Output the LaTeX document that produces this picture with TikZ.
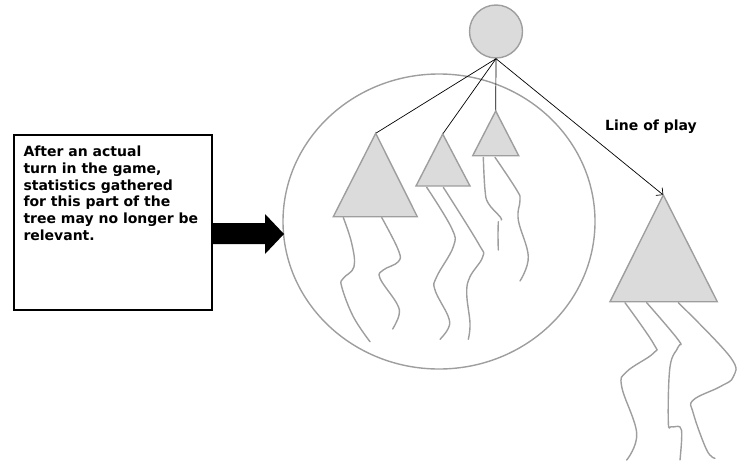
\documentclass[tikz,border=0pt]{standalone}
\usepackage{fontspec}
\setmainfont{DejaVu Sans}
\usetikzlibrary{arrows.meta}
\begin{document}
\begin{tikzpicture}[x=1pt,y=-1pt,
  grayline/.style={draw=black!38, line width=1.4pt},
  tri/.style={grayline, fill=black!14, line join=miter},
  squig/.style={draw=black!38, line width=1.4pt, line cap=round, smooth, tension=0.65},
  conn/.style={draw=black, line width=0.7pt},
  lbl/.style={font=\bfseries\fontsize{14}{16.7}\selectfont, inner sep=0pt}]
\useasboundingbox (0,0) rectangle (751,466);
% big ellipse
\draw[grayline] (439,221.5) ellipse [x radius=156, y radius=147.5];
% root
\node[circle, grayline, fill=black!14, minimum size=53pt, inner sep=0pt] (root) at (496,31.5) {};
% triangle apices
\coordinate (t1) at (375.7,133.3);
\coordinate (t2) at (442.7,134);
\coordinate (t3) at (495.7,111);
\coordinate (t4) at (663.3,195);
% connectors
\draw[conn] (root.south) -- (t1);
\draw[conn] (root.south) -- (t2);
\draw[conn] (root.south) -- (t3);
\draw[conn, -{Straight Barb[length=5pt,width=10pt]}] (root.south) -- (t4);
% triangles
\draw[tri] (t1) -- (417.3,216.7) -- (333.3,216.7) -- cycle;
\draw[tri] (t2) -- (470,186) -- (416,186) -- cycle;
\draw[tri] (t3) -- (518.7,155.7) -- (472.7,155.7) -- cycle;
\draw[tri] (t4) -- (717.3,301.7) -- (610,301.7) -- cycle;
% squiggles
\draw[squig] plot coordinates {(343.3,217.5) (351.7,243.3) (354,266.7) (343.3,278.3) (341.7,286.7) (353.3,316.7) (370,341.7)};
\draw[squig] plot coordinates {(381.7,217.5) (398.3,250) (398.3,261.7) (383.3,270) (380,278.3) (396.7,303.3) (399,315) (392.7,329)};
\draw[squig] plot coordinates {(426.7,187.3) (451.7,228.3) (453.3,246.7) (436.7,276.7) (435,290) (448.3,316.7) (448.3,328.3) (440,339.3)};
\draw[squig] plot coordinates {(443.3,187.3) (478.3,243.3) (482.7,256.7) (470,276.7) (466.7,293.3) (470,323.3) (468.3,339.3)};
\draw[squig] plot coordinates {(483.3,157.3) (485,190) (488.3,203.3) (500,216.7) (501.3,220)};
\draw[squig] plot coordinates {(498.3,221.7) (498,235) (498.3,250)};
\draw[squig] plot coordinates {(495,157.3) (516.7,190) (520,200) (518.3,220) (528.3,256.7) (520,281)};
\draw[squig] plot coordinates {(625,302.7) (653.3,343.3) (653.3,353.3) (626.7,371.7) (621.7,386.7) (636.7,433.3) (626.7,460)};
\draw[squig] plot coordinates {(646.7,302.7) (678.3,340) (678.3,346.7) (670,366.7) (668.3,421.7) (671.7,426.7) (680,427) (681.7,436.7) (680,460)};
\draw[squig] plot coordinates {(678.3,302.7) (730,356.7) (733.3,376.7) (720,386.7) (693.3,400) (693.3,413.3) (706.7,450) (715,458.3)};
% text box
\node[draw=black, line width=1.5pt, minimum width=198pt, minimum height=175pt, anchor=north west, inner sep=0pt] (box) at (13,134) {};
\node[lbl, anchor=north west, align=left] (txt) at (23.3,146) {After an actual\\turn in the game,\\statistics gathered\\for this part of the\\tree may no longer be\\relevant.};
% block arrow
\coordinate (arrtip) at (284,234);
\fill[black] (box.east |- 0,223) -- (265,223) -- (265,214) -- (arrtip) -- (265,254) -- (265,244) -- (box.east |- 0,244) -- cycle;
% label
\node[lbl, anchor=base west] (lop) at (605,130) {Line of play};
\end{tikzpicture}
\end{document}
